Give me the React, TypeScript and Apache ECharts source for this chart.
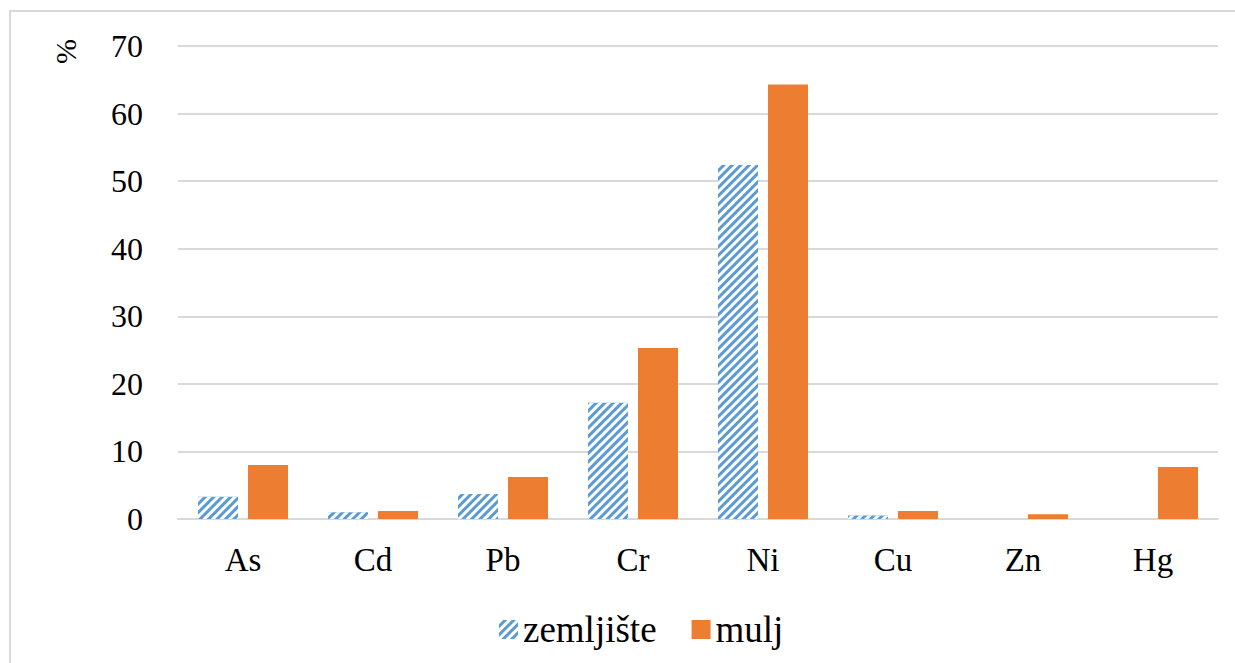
import React, { useEffect, useRef } from "react";
import * as echarts from "echarts";

const categories = ["As", "Cd", "Pb", "Cr", "Ni", "Cu", "Zn", "Hg"];
const zemljiste = [3.3, 1.0, 3.7, 17.2, 52.4, 0.5, 0, 0];
const mulj = [8.0, 1.2, 6.2, 25.3, 64.3, 1.2, 0.7, 7.7];
const seriesNames = ["zemljište", "mulj"];
const yTicks = { min: 0, max: 70, interval: 10 };

export default function App() {
  const ref = useRef<HTMLDivElement>(null);
  useEffect(() => {
    document.body.style.margin = "0";
    const chart = echarts.init(ref.current!, null, { renderer: "svg" });
    const font = "Liberation Serif";
    chart.setOption({
      animation: false,
      backgroundColor: "#fff",
      textStyle: { fontFamily: font },
      graphic: [
        {
          type: "rect",
          shape: { x: 10, y: 11, width: 1300, height: 700 },
          style: { fill: "none", stroke: "#D9D9D9", lineWidth: 2 },
          silent: true,
        },
        {
          type: "text",
          x: 50,
          y: 64,
          rotation: Math.PI / 2,
          style: { text: "%", font: `30px "${font}"`, fill: "#000" },
        },
      ],
      grid: { left: 178, right: 17, top: 46, bottom: 144, containLabel: false },
      legend: {
        top: 606,
        left: 494,
        icon: "rect",
        itemWidth: 19,
        itemHeight: 19,
        itemGap: 35,
        textStyle: { fontFamily: font, fontSize: 37, color: "#000" },
        data: seriesNames,
      },
      xAxis: {
        type: "category",
        data: categories,
        axisLine: { lineStyle: { color: "#D9D9D9", width: 2 } },
        axisTick: { show: false },
        axisLabel: { fontFamily: font, fontSize: 33, color: "#000", margin: 24 },
      },
      yAxis: {
        type: "value",
        min: yTicks.min,
        max: yTicks.max,
        interval: yTicks.interval,
        axisLine: { show: false },
        axisTick: { show: false },
        splitLine: { lineStyle: { color: "#D9D9D9", width: 2 } },
        axisLabel: { fontFamily: font, fontSize: 32, color: "#000", margin: 35 },
      },
      series: [
        {
          name: seriesNames[0],
          type: "bar",
          data: zemljiste,
          barWidth: 40,
          barGap: "25%",
          itemStyle: {
            color: "#5B9BD5",
            decal: {
              symbol: "rect",
              color: "#ffffff",
              dashArrayX: [1, 0],
              dashArrayY: [3, 3],
              rotation: -Math.PI / 4,
            },
          },
        },
        {
          name: seriesNames[1],
          type: "bar",
          data: mulj,
          barWidth: 40,
          itemStyle: { color: "#ED7D31" },
        },
      ],
    });
    return () => chart.dispose();
  }, []);
  return <div ref={ref} style={{ width: 1235, height: 663 }} />;
}
